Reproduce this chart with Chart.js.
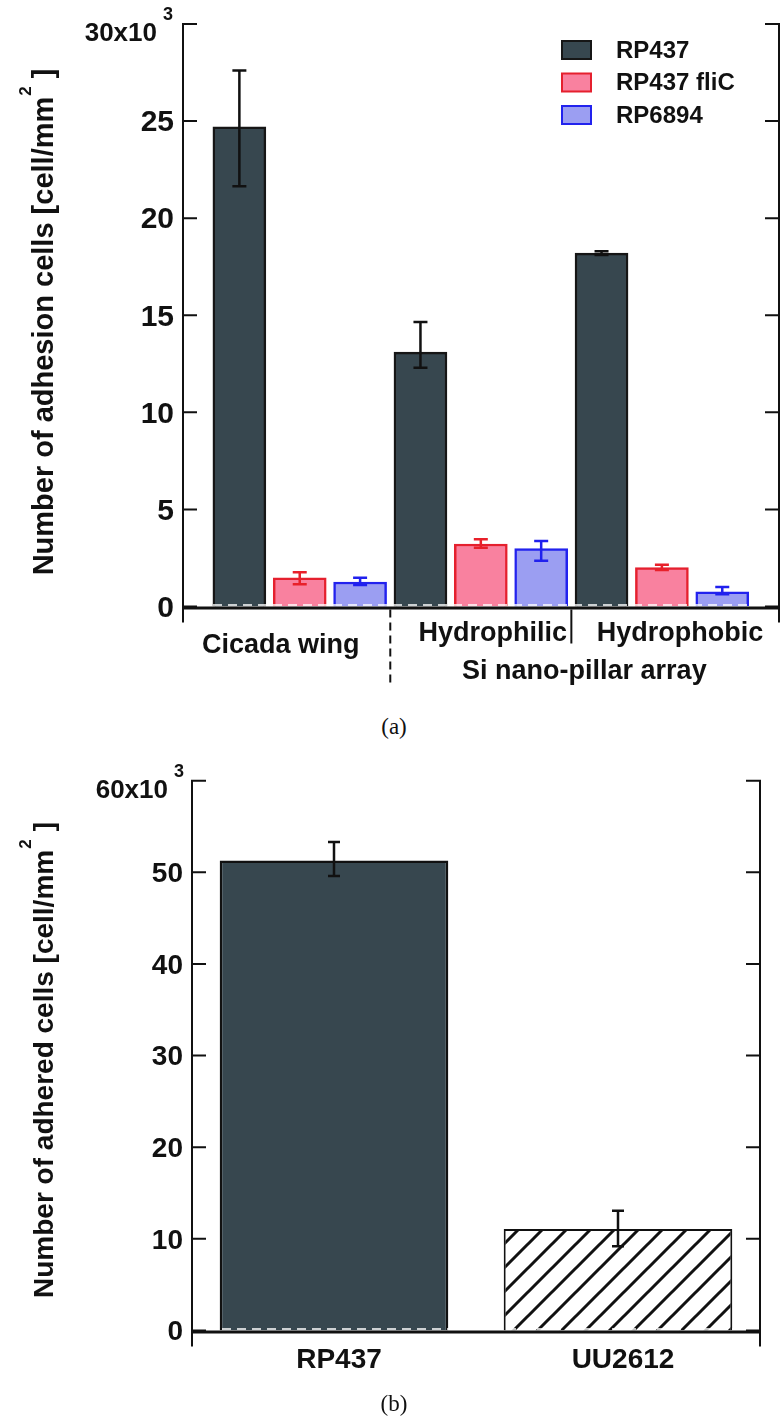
<!DOCTYPE html>
<html>
<head>
<meta charset="utf-8">
<script src="https://cdn.jsdelivr.net/npm/chart.js@4.4.1/dist/chart.umd.min.js"></script>
<style>
	body { margin: 0; background: #fff; width: 783px; height: 1420px; position: relative; overflow: hidden; }
	canvas { position: absolute; left: 0; }
	.cap { position: absolute; left: 0; width: 788px; text-align: center; font: 23px "Liberation Serif", "Times New Roman", serif; line-height: 24px; color: #111; }
</style>
</head>
<body>
<canvas id="chartA" width="783" height="700" style="top:0"></canvas>
<div class="cap" style="top:715px">(a)</div>
<canvas id="chartB" width="783" height="680" style="top:740px"></canvas>
<div class="cap" style="top:1392px">(b)</div>
<script>
// (a) adhesion on the three surfaces, cell/mm² in units of 10³
const groupsA = ["Cicada wing", "Hydrophilic", "Hydrophobic"];
const strainsA = ["RP437", "RP437 fliC", "RP6894"];
const rp437 = [24.7, 13.1, 18.2];
const rp437Lo = [21.65, 12.3, 18.1];
const rp437Hi = [27.6, 14.65, 18.3];
const flic = [1.48, 3.22, 2.0];
const flicLo = [1.14, 3.03, 1.88];
const flicHi = [1.76, 3.46, 2.15];
const rp6894 = [1.26, 2.98, 0.76];
const rp6894Lo = [1.11, 2.35, 0.63];
const rp6894Hi = [1.48, 3.37, 1.0];
const ticksA = [0, 5, 10, 15, 20, 25, 30];

// (b) adhered cells, units of 10³
const strainsB = ["RP437", "UU2612"];
const adheredB = [51.3, 11.07];
const adheredLo = [49.6, 9.2];
const adheredHi = [53.3, 13.07];
const ticksB = [0, 10, 20, 30, 40, 50, 60];

const FONT = '"Liberation Sans", Arial, sans-serif';
const INK = "#111";

const hatch = function() {
	const c = document.createElement("canvas");
	c.width = 24; c.height = 24;
	const g = c.getContext("2d");
	g.fillStyle = "#fff";
	g.fillRect(0, 0, 24, 24);
	g.strokeStyle = INK;
	g.lineWidth = 3;
	g.beginPath();
	g.moveTo(-6, 30); g.lineTo(30, -6);
	g.moveTo(-6, 6); g.lineTo(6, -6);
	g.moveTo(18, 30); g.lineTo(30, 18);
	g.stroke();
	return g.createPattern(c, "repeat");
}

// axes frame, ticks on both sides, tick labels and rotated title
const drawFrame = function(chart, o) {
	const {ctx, chartArea: a} = chart;
	const y = chart.scales.y;
	const y0 = y.getPixelForValue(0);
	ctx.save();
	ctx.strokeStyle = "#fff";
	ctx.lineWidth = 1.5;
	ctx.setLineDash([9, 6]);
	ctx.beginPath();
	ctx.moveTo(a.left, y0 - 1.5); ctx.lineTo(a.right, y0 - 1.5);
	ctx.stroke();
	ctx.setLineDash([]);
	ctx.strokeStyle = INK;
	ctx.lineWidth = 3;
	ctx.beginPath();
	ctx.moveTo(a.left, y0 + 1.5); ctx.lineTo(a.right, y0 + 1.5);
	ctx.stroke();
	ctx.lineWidth = 2;
	ctx.beginPath();
	for (let x of [a.left, a.right]) {
		ctx.moveTo(x, a.top - 1);
		ctx.lineTo(x, y0 + o.drop);
	}
	for (let t of o.ticks) {
		const py = y.getPixelForValue(t);
		ctx.moveTo(a.left, py); ctx.lineTo(a.left + 14, py);
		ctx.moveTo(a.right, py); ctx.lineTo(a.right - 14, py);
	}
	ctx.stroke();

	ctx.fillStyle = INK;
	ctx.textBaseline = "middle";
	o.ticks.forEach((t, i) => {
		const py = y.getPixelForValue(t);
		if (i == o.ticks.length - 1) {
			ctx.textAlign = "right";
			ctx.font = `bold ${o.topSize}px ${FONT}`;
			ctx.fillText(t + "x10", a.left + o.topDx, py + 10);
			ctx.textAlign = "left";
			ctx.font = `bold 18px ${FONT}`;
			ctx.fillText("3", a.left + o.topDx + 6, py - 9);
		} else {
			ctx.textAlign = "right";
			ctx.font = `bold ${o.tickSize}px ${FONT}`;
			ctx.fillText(String(t), a.left - 9, py + 2);
		}
	});

	// title: text [cell/mm²]
	ctx.translate(53, o.titleY);
	ctx.rotate(-Math.PI / 2);
	ctx.textBaseline = "alphabetic";
	ctx.textAlign = "left";
	const main = o.title + " [cell/mm";
	ctx.font = `bold ${o.titleSize}px ${FONT}`;
	const w1 = ctx.measureText(main).width;
	const wb = ctx.measureText("]").width;
	ctx.font = `bold 17px ${FONT}`;
	const ws = ctx.measureText("2").width;
	const start = -(w1 + ws + 9 + wb) / 2;
	ctx.font = `bold ${o.titleSize}px ${FONT}`;
	ctx.fillText(main, start, 0);
	ctx.fillText("]", start + w1 + ws + 9, 0);
	ctx.font = `bold 17px ${FONT}`;
	ctx.fillText("2", start + w1 + 1, -22);
	ctx.restore();
}

const errorBars = {
	id: "errorBars",
	afterDatasetsDraw(chart, args, opts) {
		const ctx = chart.ctx;
		const y = chart.scales.y;
		chart.data.datasets.forEach((ds, i) => {
			const meta = chart.getDatasetMeta(i);
			meta.data.forEach((bar, j) => {
				const top = y.getPixelForValue(ds.errHi[j]);
				const bot = y.getPixelForValue(ds.errLo[j]);
				const h = opts.cap / 2;
				ctx.save();
				ctx.strokeStyle = ds.errColor;
				ctx.lineWidth = opts.width;
				ctx.beginPath();
				ctx.moveTo(bar.x, top); ctx.lineTo(bar.x, bot);
				ctx.moveTo(bar.x - h, top); ctx.lineTo(bar.x + h, top);
				ctx.moveTo(bar.x - h, bot); ctx.lineTo(bar.x + h, bot);
				ctx.stroke();
				ctx.restore();
			});
		});
	}
};

const frameA = {
	id: "frameA",
	afterDatasetsDraw(chart) {
		drawFrame(chart, {ticks: ticksA, drop: 16, topSize: 26, topDx: -26, tickSize: 30,
			title: "Number of adhesion cells", titleSize: 29, titleY: 322});
		const {ctx} = chart;
		const x = chart.scales.x;
		const y0 = chart.scales.y.getPixelForValue(0);
		ctx.save();
		ctx.strokeStyle = INK;
		ctx.lineWidth = 2;
		// surface separators
		const sep1 = x.getPixelForValue(3.5), sep2 = x.getPixelForValue(6.5);
		ctx.setLineDash([8, 5]);
		ctx.beginPath(); ctx.moveTo(sep1, y0 + 3); ctx.lineTo(sep1, y0 + 79); ctx.stroke();
		ctx.setLineDash([]);
		ctx.beginPath(); ctx.moveTo(sep2, y0 + 3); ctx.lineTo(sep2, y0 + 37); ctx.stroke();

		ctx.fillStyle = INK;
		ctx.textAlign = "center";
		ctx.textBaseline = "middle";
		ctx.font = `bold 27px ${FONT}`;
		ctx.fillText(groupsA[0], x.getPixelForValue(2) - 19, y0 + 39);
		ctx.fillText(groupsA[1], x.getPixelForValue(5) + 12, y0 + 27);
		ctx.fillText(groupsA[2], x.getPixelForValue(8) + 18, y0 + 27);
		ctx.fillText("Si nano-pillar array", x.getPixelForValue(6.5) + 13, y0 + 65);

		// legend
		chart.data.datasets.forEach((ds, i) => {
			const cy = 50 + 32.5 * i;
			ctx.fillStyle = ds.backgroundColor;
			ctx.fillRect(562, cy - 9, 29, 18);
			ctx.strokeStyle = ds.borderColor;
			ctx.lineWidth = 2;
			ctx.strokeRect(562, cy - 9, 29, 18);
			ctx.fillStyle = INK;
			ctx.textAlign = "left";
			ctx.font = `bold 24px ${FONT}`;
			ctx.fillText(ds.label, 616, cy + 1);
		});
		ctx.restore();
	}
};

const frameB = {
	id: "frameB",
	afterDatasetsDraw(chart) {
		drawFrame(chart, {ticks: ticksB, drop: 16, topSize: 26, topDx: -24, tickSize: 28,
			title: "Number of adhered cells", titleSize: 28, titleY: 320});
		const {ctx} = chart;
		const x = chart.scales.x;
		const y0 = chart.scales.y.getPixelForValue(0);
		ctx.save();
		ctx.fillStyle = INK;
		ctx.textAlign = "center";
		ctx.textBaseline = "middle";
		ctx.font = `bold 28px ${FONT}`;
		strainsB.forEach((s, i) => ctx.fillText(s, x.getPixelForValue(i) + 5, y0 + 30));
		ctx.restore();
	}
};

const seriesA = [
	{label: strainsA[0], values: rp437, lo: rp437Lo, hi: rp437Hi, fill: "#37474f", line: "#161616", err: "#111"},
	{label: strainsA[1], values: flic, lo: flicLo, hi: flicHi, fill: "#f9819f", line: "#e5202e", err: "#e8202a"},
	{label: strainsA[2], values: rp6894, lo: rp6894Lo, hi: rp6894Hi, fill: "#9b9ef2", line: "#2222ee", err: "#2020ee"},
];

new Chart(document.getElementById("chartA"), {
	type: "bar",
	data: {
		datasets: seriesA.map((s, k) => ({
			label: s.label,
			data: s.values.map((v, g) => ({x: g * 3 + k + 1, y: v})),
			backgroundColor: s.fill,
			borderColor: s.line,
			borderWidth: 2.5,
			errLo: s.lo,
			errHi: s.hi,
			errColor: s.err,
			grouped: false,
			barThickness: 53,
		})),
	},
	options: {
		responsive: false,
		animation: false,
		events: [],
		layout: {padding: {left: 183, right: 4, top: 24, bottom: 93.5}},
		scales: {
			x: {type: "linear", offset: false, min: 0.066, max: 9.94, display: false},
			y: {min: 0, max: 30, display: false},
		},
		plugins: {
			legend: {display: false},
			tooltip: {enabled: false},
			errorBars: {width: 2.5, cap: 14},
		},
	},
	plugins: [frameA, errorBars],
});

new Chart(document.getElementById("chartB"), {
	type: "bar",
	data: {
		labels: strainsB,
		datasets: [{
			label: "adhered",
			data: adheredB,
			backgroundColor: ["#37474f", hatch()],
			borderColor: INK,
			borderWidth: [2.5, 2],
			errLo: adheredLo,
			errHi: adheredHi,
			errColor: "#111",
			barPercentage: 0.805,
			categoryPercentage: 1,
		}],
	},
	options: {
		responsive: false,
		animation: false,
		events: [],
		layout: {padding: {left: 192, right: 23, top: 40.7, bottom: 89.5}},
		scales: {
			x: {display: false},
			y: {min: 0, max: 60, display: false},
		},
		plugins: {
			legend: {display: false},
			tooltip: {enabled: false},
			errorBars: {width: 2.5, cap: 12},
		},
	},
	plugins: [frameB, errorBars],
});
</script>
</body>
</html>
